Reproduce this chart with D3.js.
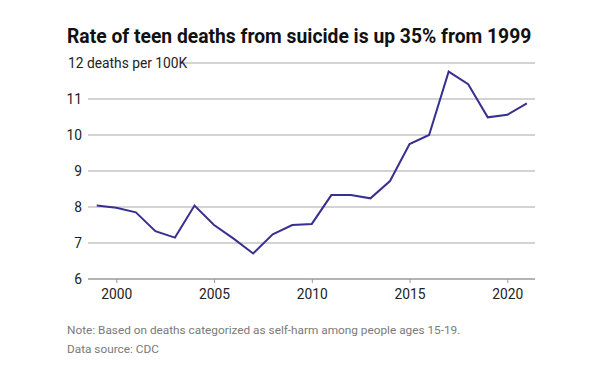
<!DOCTYPE html>
<html><head><meta charset="utf-8">
<script src="https://cdn.jsdelivr.net/npm/d3@7"></script>
<style>body{margin:0;background:#fff;font-family:Roboto,sans-serif}</style>
</head><body><svg id="c" width="600" height="383"></svg>
<script>
const years = [1999,2000,2001,2002,2003,2004,2005,2006,2007,2008,2009,2010,2011,2012,2013,2014,2015,2016,2017,2018,2019,2020,2021];
const rates = [8.04,7.98,7.85,7.33,7.15,8.04,7.5,7.12,6.71,7.24,7.5,7.53,8.33,8.33,8.24,8.72,9.75,10.0,11.76,11.41,10.49,10.56,10.88];
const yTicks = [6,7,8,9,10,11,12];
const xTicks = [2000,2005,2010,2015,2020];
const title = "Rate of teen deaths from suicide is up 35% from 1999";
const unitLabel = "12 deaths per 100K";
const notes = ["Note: Based on deaths categorized as self-harm among people ages 15-19.","Data source: CDC"];

const svg = d3.select("#c");
const x = d3.scaleLinear().domain([2000,2020]).range([116.3,507.3]);
const y = d3.scaleLinear().domain([6,12]).range([279,63]);
const gx0 = 88, gx1 = 535;

svg.append("text").attr("x",67).attr("y",43).attr("font-size",19.3).attr("font-weight",700).attr("fill","#111").text(title);

const g = svg.append("g");
g.selectAll("line.grid").data(yTicks).join("line")
  .attr("x1",d=>d===12?184:gx0).attr("x2",gx1)
  .attr("y1",d=>y(d)).attr("y2",d=>y(d))
  .attr("stroke",d=>d===6?"#9a9a9a":"#a8a8a8").attr("stroke-width",d=>d===6?1.5:1.2);
g.selectAll("text.yl").data(yTicks).join("text")
  .attr("x",d=>d===12?68:82).attr("y",d=>y(d)).attr("dy","0.35em")
  .attr("text-anchor",d=>d===12?"start":"end")
  .attr("font-size",13.8).attr("fill","#222")
  .text(d=>d===12?unitLabel:d);

const xa = svg.append("g").attr("transform",`translate(0,${y(6)})`)
  .call(d3.axisBottom(x).tickValues(xTicks).tickFormat(d3.format("d")).tickSize(4).tickPadding(6));
xa.select(".domain").remove();
xa.selectAll("line").attr("stroke","#999");
xa.selectAll("text").attr("font-size",13.8).attr("fill","#222").attr("font-family","Roboto");

const line = d3.line().x((d,i)=>x(years[i])).y(d=>y(d));
svg.append("path").attr("d",line(rates)).attr("fill","none").attr("stroke","#38308f").attr("stroke-width",2).attr("stroke-linejoin","miter");

svg.selectAll("text.note").data(notes).join("text")
  .attr("x",67).attr("y",(d,i)=>334+i*18.5).attr("font-size",11.8).attr("fill","#7a7a7a").text(d=>d);
</script></body></html>
